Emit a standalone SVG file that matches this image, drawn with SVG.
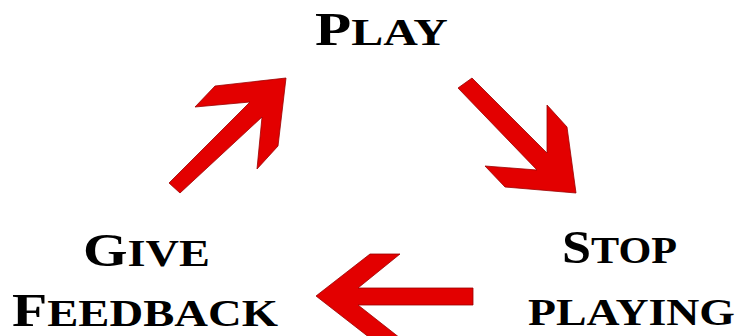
<svg xmlns="http://www.w3.org/2000/svg" width="744" height="336" viewBox="0 0 744 336">
<style>
.lbl{font-family:"Liberation Serif","DejaVu Serif",serif;font-weight:bold;font-size:47px;fill:#000;}
.sc{font-size:38px;text-transform:uppercase;}
.arrow{fill:#e30000;stroke:#9a0000;stroke-width:0.8;stroke-linejoin:miter;}
</style>
<rect width="744" height="336" fill="#fff"/>
<g id="connectors">
<polygon id="arrow-feedback-play" class="arrow" points="169,183 250,102 195,107 215,86 286,78 278,146 257,169 262,117 180,193"/>
<polygon id="arrow-play-stop" class="arrow" points="472,78 547,153 547,105 567,127 576,193 505,187 485,166 537,170 458,88"/>
<polygon id="arrow-stop-feedback" class="arrow" points="473,288 358,288 400,254 370,254 316,296 370,338 400,338 358,305 473,305"/>
</g>
<g id="node-play">
<text class="lbl" x="315" y="45" textLength="133" lengthAdjust="spacingAndGlyphs">P<tspan class="sc">lay</tspan></text>
</g>
<g id="node-stop">
<text class="lbl" x="562" y="263" textLength="115" lengthAdjust="spacingAndGlyphs">S<tspan class="sc">top</tspan></text>
<text class="lbl" x="528" y="325" textLength="207" lengthAdjust="spacingAndGlyphs"><tspan class="sc">playing</tspan></text>
</g>
<g id="node-feedback">
<text class="lbl" x="83" y="266" textLength="127" lengthAdjust="spacingAndGlyphs">G<tspan class="sc">ive</tspan></text>
<text class="lbl" x="12" y="326" textLength="266" lengthAdjust="spacingAndGlyphs">F<tspan class="sc">eedback</tspan></text>
</g>
</svg>
